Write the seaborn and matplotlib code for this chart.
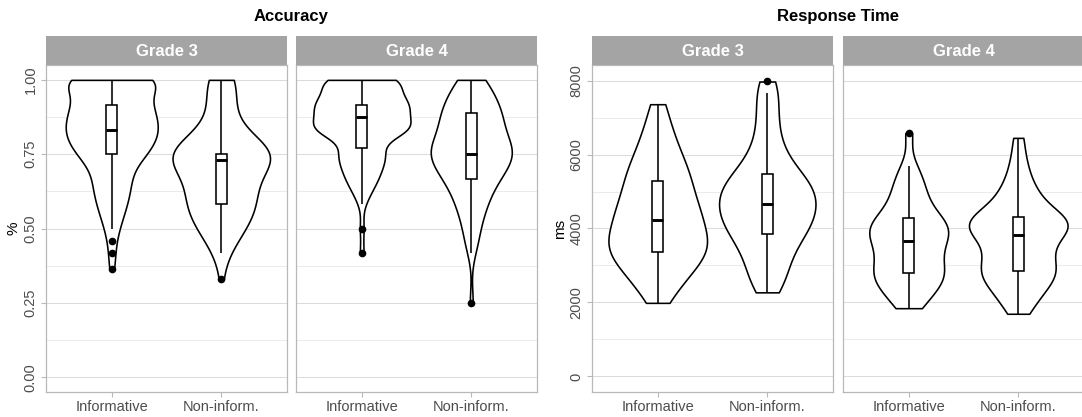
import numpy as np
import pandas as pd
import matplotlib
matplotlib.use("Agg")
import matplotlib.pyplot as plt
from matplotlib.ticker import MultipleLocator, FormatStrFormatter
import seaborn as sns

sns.set_style("white")
plt.rcParams["font.family"] = ["Liberation Sans", "DejaVu Sans"]

# ---------------- data ----------------
conditions = ["Informative", "Non-inform."]
grades = ["Grade 3", "Grade 4"]

# Accuracy (proportion correct): score levels and number of children at each level
acc_g3_inf_levels = [0.365, 0.417, 0.458, 0.5, 0.542, 0.583, 0.625, 0.667, 0.708, 0.75, 0.792, 0.833, 0.875, 0.917, 0.958, 1.0]
acc_g3_inf_counts = [1, 1, 1, 2, 3, 4, 5, 5, 5, 10, 11, 13, 11, 12, 5, 22]

acc_g3_non_levels = [0.33, 0.417, 0.458, 0.5, 0.542, 0.583, 0.625, 0.667, 0.708, 0.75, 0.792, 0.833, 0.875, 0.917, 0.958, 1.0]
acc_g3_non_counts = [1, 2, 4, 7, 9, 10, 10, 8, 7, 30, 6, 4, 4, 3, 3, 8]

acc_g4_inf_levels = [0.417, 0.5, 0.583, 0.625, 0.667, 0.708, 0.75, 0.792, 0.833, 0.875, 0.917, 0.958, 1.0]
acc_g4_inf_counts = [1, 1, 1, 3, 5, 6, 8, 4, 18, 12, 16, 9, 15]

acc_g4_non_levels = [0.25, 0.417, 0.458, 0.5, 0.542, 0.583, 0.625, 0.667, 0.708, 0.75, 0.792, 0.84, 0.89, 0.945, 1.0]
acc_g4_non_counts = [1, 1, 2, 2, 3, 4, 5, 7, 9, 12, 10, 9, 10, 8, 5]

# Response time (ms), one value per child
rt_g3_inf = [1990, 2300, 2500, 2660, 2800, 2920, 3030, 3130, 3230, 3320,
             3375, 3460, 3545, 3630, 3715, 3800, 3880, 3960, 4060, 4180,
             4260, 4350, 4450, 4550, 4650, 4760, 4880, 5000, 5120, 5250,
             5370, 5500, 5640, 5790, 5950, 6130, 6350, 6600, 6900, 7360]
rt_g3_non = [2274, 2480, 2700, 2900, 3080, 3250, 3400, 3540, 3680, 3810,
             3880, 3970, 4060, 4150, 4240, 4320, 4400, 4480, 4560, 4630,
             4700, 4780, 4860, 4940, 5020, 5100, 5180, 5260, 5340, 5440,
             5560, 5700, 5860, 6050, 6300, 6600, 6950, 7300, 7670, 7974]
rt_g4_inf = [1846, 2000, 2140, 2265, 2375, 2475, 2565, 2645, 2705, 2750,
             2807, 2890, 2985, 3080, 3170, 3260, 3350, 3440, 3535, 3630,
             3700, 3770, 3840, 3900, 3960, 4020, 4080, 4140, 4200, 4270,
             4350, 4480, 4620, 4770, 4920, 5080, 5250, 5450, 5690, 6580]
rt_g4_non = [1695, 1930, 2110, 2260, 2390, 2500, 2600, 2690, 2770, 2830,
             2865, 2965, 3065, 3165, 3265, 3365, 3470, 3575, 3680, 3780,
             3870, 3930, 3985, 4040, 4090, 4140, 4185, 4225, 4260, 4290,
             4360, 4480, 4620, 4760, 4900, 5050, 5250, 5550, 5900, 6450]

# ---------------- long table ----------------
groups = {
    ("acc", "Grade 3", "Informative"): np.repeat(acc_g3_inf_levels, acc_g3_inf_counts),
    ("acc", "Grade 3", "Non-inform."): np.repeat(acc_g3_non_levels, acc_g3_non_counts),
    ("acc", "Grade 4", "Informative"): np.repeat(acc_g4_inf_levels, acc_g4_inf_counts),
    ("acc", "Grade 4", "Non-inform."): np.repeat(acc_g4_non_levels, acc_g4_non_counts),
    ("rt", "Grade 3", "Informative"): np.asarray(rt_g3_inf, float),
    ("rt", "Grade 3", "Non-inform."): np.asarray(rt_g3_non, float),
    ("rt", "Grade 4", "Informative"): np.asarray(rt_g4_inf, float),
    ("rt", "Grade 4", "Non-inform."): np.asarray(rt_g4_non, float),
}
rows = []
for (m, g, c), vals in groups.items():
    for v in vals:
        rows.append((m, g, c, float(v)))
df = pd.DataFrame(rows, columns=["measure", "grade", "cond", "value"])

# ---------------- styling / layout ----------------
violin_width = {
    ("acc", "Grade 3", "Informative"): 0.84, ("acc", "Grade 3", "Non-inform."): 0.89,
    ("acc", "Grade 4", "Informative"): 0.89, ("acc", "Grade 4", "Non-inform."): 0.74,
    ("rt", "Grade 3", "Informative"): 0.90, ("rt", "Grade 3", "Non-inform."): 0.88,
    ("rt", "Grade 4", "Informative"): 0.72, ("rt", "Grade 4", "Non-inform."): 0.90,
}
bw_adjust = {
    ("acc", "Grade 3", "Informative"): 0.75, ("acc", "Grade 3", "Non-inform."): 1.1,
    ("acc", "Grade 4", "Informative"): 0.7, ("acc", "Grade 4", "Non-inform."): 0.8,
    ("rt", "Grade 3", "Informative"): 0.65, ("rt", "Grade 3", "Non-inform."): 0.65,
    ("rt", "Grade 4", "Informative"): 0.7, ("rt", "Grade 4", "Non-inform."): 0.7,
}

FIG_W, FIG_H = 1082, 417
panel_left = {"acc": [46, 296], "rt": [592, 843]}
PANEL_W, PANEL_TOP, PANEL_BOT, STRIP_H = 241, 65, 392, 29
STRIP_COL = "#A4A4A4"
BORDER_COL = "#B8B8B8"
TEXT_COL = "#4D4D4D"

fig = plt.figure(figsize=(FIG_W / 100, FIG_H / 100), dpi=100)

for measure in ["acc", "rt"]:
    for gi, grade in enumerate(grades):
        x0 = panel_left[measure][gi]
        ax = fig.add_axes([x0 / FIG_W, (FIG_H - PANEL_BOT) / FIG_H,
                           PANEL_W / FIG_W, (PANEL_BOT - PANEL_TOP) / FIG_H])
        sub = df[(df.measure == measure) & (df.grade == grade)]
        for cond in conditions:
            d = sub[sub.cond == cond]
            sns.violinplot(data=d, x="cond", y="value", order=conditions, ax=ax,
                           inner=None, cut=0, density_norm="width",
                           width=violin_width[(measure, grade, cond)],
                           bw_adjust=bw_adjust[(measure, grade, cond)], color="white",
                           linecolor="black", linewidth=1.15, saturation=1)
        sns.boxplot(data=sub, x="cond", y="value", order=conditions, ax=ax,
                    width=0.1, color="white", linecolor="black", linewidth=1.15,
                    saturation=1, showcaps=False, fliersize=4.5,
                    flierprops=dict(marker="o", markerfacecolor="black",
                                    markeredgecolor="black"),
                    medianprops=dict(linewidth=2.1))

        ax.set_xlim(-0.6, 1.6)
        if measure == "acc":
            ax.set_ylim(-0.05, 1.05)
            ax.yaxis.set_major_locator(MultipleLocator(0.25))
            ax.yaxis.set_minor_locator(MultipleLocator(0.125))
            ax.yaxis.set_major_formatter(FormatStrFormatter("%.2f"))
        else:
            ax.set_ylim(-420, 8420)
            ax.yaxis.set_major_locator(MultipleLocator(2000))
            ax.yaxis.set_minor_locator(MultipleLocator(1000))
            ax.yaxis.set_major_formatter(FormatStrFormatter("%d"))

        ax.grid(False)
        ax.yaxis.grid(True, which="major", color="#DCDCDC", linewidth=0.75)
        ax.yaxis.grid(True, which="minor", color="#E6E6E6", linewidth=0.55)
        ax.set_axisbelow(True)
        for s in ax.spines.values():
            s.set_visible(True)
            s.set_color(BORDER_COL)
            s.set_linewidth(0.9)

        ax.tick_params(axis="both", which="major", color=BORDER_COL, length=3.5,
                       width=0.8, labelcolor=TEXT_COL, labelsize=10.5, pad=2.5,
                       bottom=True, left=True)
        ax.tick_params(axis="y", which="minor", length=0)
        ax.set_xlabel("")
        if gi == 0:
            ax.tick_params(axis="y", labelrotation=90)
            plt.setp(ax.get_yticklabels(), va="center")
            ax.set_ylabel("%" if measure == "acc" else "ms", fontsize=11, color="black")
            ax.yaxis.set_label_coords(-0.105 if measure == "acc" else -0.103, 0.5)
        else:
            ax.tick_params(axis="y", left=False, labelleft=False)
            ax.set_ylabel("")

        sax = fig.add_axes([x0 / FIG_W, (FIG_H - PANEL_TOP) / FIG_H,
                            PANEL_W / FIG_W, STRIP_H / FIG_H])
        sax.set_facecolor(STRIP_COL)
        sax.set_xticks([])
        sax.set_yticks([])
        for s in sax.spines.values():
            s.set_visible(False)
        sax.text(0.5, 0.48, grade, ha="center", va="center", color="white",
                 fontsize=12, fontweight="bold", transform=sax.transAxes)

fig.text(291.5 / FIG_W, 1 - 17 / FIG_H, "Accuracy", ha="center", va="center",
         fontsize=12, fontweight="bold", color="black")
fig.text(838 / FIG_W, 1 - 17 / FIG_H, "Response Time", ha="center", va="center",
         fontsize=12, fontweight="bold", color="black")

fig.savefig("out.png", dpi=100)
